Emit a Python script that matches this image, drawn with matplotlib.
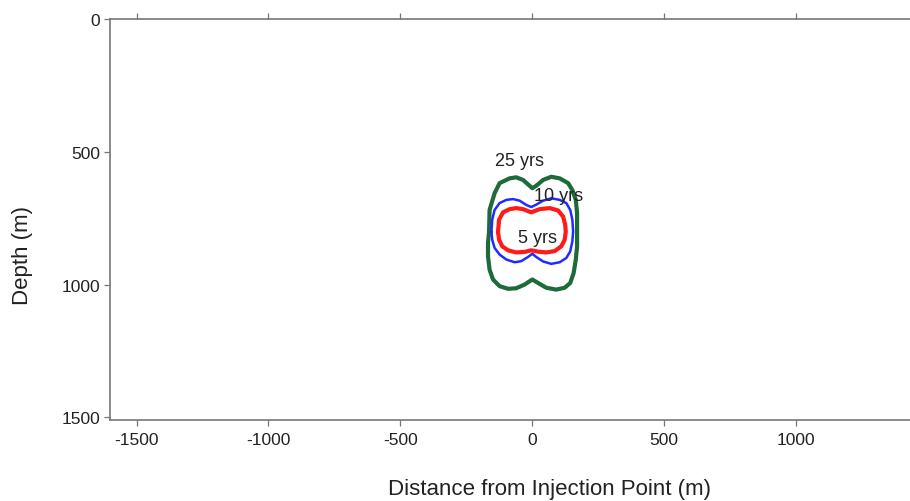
import matplotlib
matplotlib.use("Agg")
import matplotlib.pyplot as plt

plt.rcParams['font.family'] = ['Liberation Sans', 'DejaVu Sans']
plt.rcParams['axes.unicode_minus'] = False

# Plume outlines (x = distance from injection point, depth), in metres
red_x = [-129, -125, -110, -85, -60, -34, -3, 29, 67, 99, 118, 126, 128,
         124, 111, 86, 54, 23, -3, -28, -60, -91, -113, -125]
red_z = [801, 756, 728, 716, 712, 716, 728, 716, 712, 721, 744, 775, 801,
         831, 856, 874, 879, 876, 871, 877, 879, 871, 856, 831]

blue_x = [-154, -151, -142, -123, -97, -72, -47, -22, -3, 16, 42, 73, 105, 130, 145, 153, 156,
          153, 145, 130, 105, 73, 42, 16, 1, -15, -41, -66, -97, -123, -142, -151]
blue_z = [801, 756, 719, 693, 681, 678, 684, 700, 708, 699, 684, 675, 681, 693, 719, 756, 801,
          837, 875, 900, 916, 922, 913, 896, 884, 896, 912, 916, 906, 887, 862, 831]

green_x = [-163, -161, -142, -123, -85, -60, -34, -9, 1, 16, 42, 73, 105, 137, 153, 166, 171, 171,
           171, 166, 158, 145, 124, 92, 54, 23, 1, -28, -60, -91, -123, -148, -161, -167, -167]
green_z = [801, 719, 656, 618, 600, 596, 606, 628, 637, 628, 606, 594, 600, 618, 644, 681, 731, 801,
           856, 906, 956, 994, 1012, 1019, 1012, 994, 981, 1000, 1014, 1016, 1006, 981, 944, 894, 843]

contour_labels = ["25 yrs", "10 yrs", "5 yrs"]
label_x = [-47, 102, 20]
label_z = [531, 664, 821]

x_ticks = [-1500, -1000, -500, 0, 500, 1000]
y_ticks = [0, 500, 1000, 1500]

fig = plt.figure(figsize=(9.10, 5.02), dpi=100)
ax = fig.add_axes([0.1209, 0.1604, 0.8791, 0.7996])

for xs, zs, col, lw in [(green_x, green_z, '#1e6b3a', 3.0),
                        (blue_x, blue_z, '#1f2bff', 1.8),
                        (red_x, red_z, '#ff1a1a', 3.0)]:
    ax.plot(xs + xs[:1], zs + zs[:1], color=col, lw=lw,
            solid_joinstyle='round', solid_capstyle='round')

for t, x, z in zip(contour_labels, label_x, label_z):
    ax.text(x, z, t, ha='center', va='center', fontsize=13, color='#222222')

ax.set_xlim(-1601, 1434)
ax.set_ylim(1512, 0)
ax.set_xticks(x_ticks)
ax.set_yticks(y_ticks)

for s in ['left', 'top', 'bottom']:
    ax.spines[s].set_color('#777777')
    ax.spines[s].set_linewidth(1.2)
ax.spines['right'].set_visible(False)

ax.tick_params(axis='x', which='both', top=True, bottom=True, direction='out',
               length=4, width=0.9, color='#777777', labelsize=12.5,
               labelcolor='#222222', pad=4)
ax.tick_params(axis='y', direction='out', length=4, width=0.9, color='#777777',
               labelsize=12.5, labelcolor='#222222', pad=3)

ax.set_xlabel('Distance from Injection Point (m)', fontsize=16, color='#222222')
ax.set_ylabel('Depth (m)', fontsize=16, color='#222222')
ax.xaxis.set_label_coords(0.549, -0.1425)
ax.yaxis.set_label_coords(-0.0965, 0.4125)

fig.savefig('out.png', dpi=100)
